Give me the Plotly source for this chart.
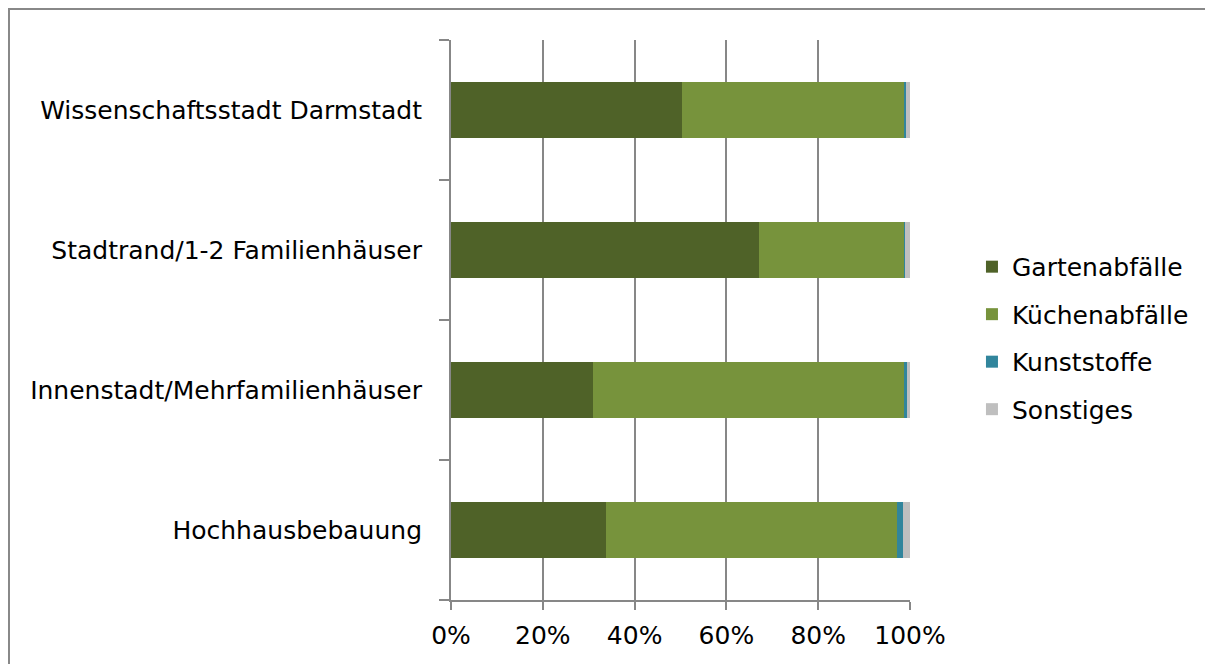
import plotly.graph_objects as go

categories = ["Hochhausbebauung", "Innenstadt/Mehrfamilienhäuser",
              "Stadtrand/1-2 Familienhäuser", "Wissenschaftsstadt Darmstadt"]
series_names = ["Gartenabfälle", "Küchenabfälle", "Kunststoffe", "Sonstiges"]
garten = [33.8, 30.9, 67.1, 50.3]
kuechen = [63.3, 67.8, 31.7, 48.4]
kunststoffe = [1.4, 0.6, 0.2, 0.4]
sonstiges = [1.5, 0.7, 1.0, 0.9]
colors = ["#4f6228", "#77933c", "#31859c", "#bfbfbf"]
tick_vals = [0, 0.2, 0.4, 0.6, 0.8, 1.0]
tick_text = ["0%", "20%", "40%", "60%", "80%", "100%"]

values = [garten, kuechen, kunststoffe, sonstiges]
tot = [sum(v[i] for v in values) for i in range(len(categories))]
fig = go.Figure()
for name, vals, col in zip(series_names, values, colors):
    fig.add_trace(go.Bar(
        y=categories, x=[v / t for v, t in zip(vals, tot)], name=name,
        orientation="h", marker=dict(color=col, line=dict(width=0)),
        legendgroup=name,
    ))

FONT = "DejaVu Sans, Liberation Sans, Arial, sans-serif"
fig.update_layout(
    barmode="stack", bargap=0.6,
    width=1205, height=656,
    margin=dict(l=443, r=303, t=32, b=64),
    paper_bgcolor="white", plot_bgcolor="white",
    font=dict(family=FONT, size=25, color="#000000"),
    legend=dict(x=1.135, y=0.468, yanchor="middle", xanchor="left",
                font=dict(size=25), itemsizing="constant",
                tracegroupgap=12, traceorder="grouped"),
    showlegend=True,
)
fig.update_xaxes(
    range=[0, 1], tickvals=tick_vals, ticktext=tick_text,
    showgrid=True, gridcolor="#878787", gridwidth=2,
    showline=True, linecolor="#878787", linewidth=2,
    ticks="outside", ticklen=8, tickcolor="#878787", tickwidth=2,
    tickfont=dict(size=25), zeroline=False, ticklabelstandoff=4,
)
fig.update_yaxes(
    showline=True, linecolor="#878787", linewidth=2,
    ticks="outside", tickson="boundaries", ticklen=10, tickcolor="#878787", tickwidth=2,
    showgrid=False, tickfont=dict(size=25), ticklabelstandoff=22,
)
fig.add_shape(type="path", xref="paper", yref="paper",
              path="M -0.963,-0.5 L -0.963,1.0554 L 3.0,1.0554",
              line=dict(color="#888888", width=2), layer="below")

fig.write_html("out.html")
